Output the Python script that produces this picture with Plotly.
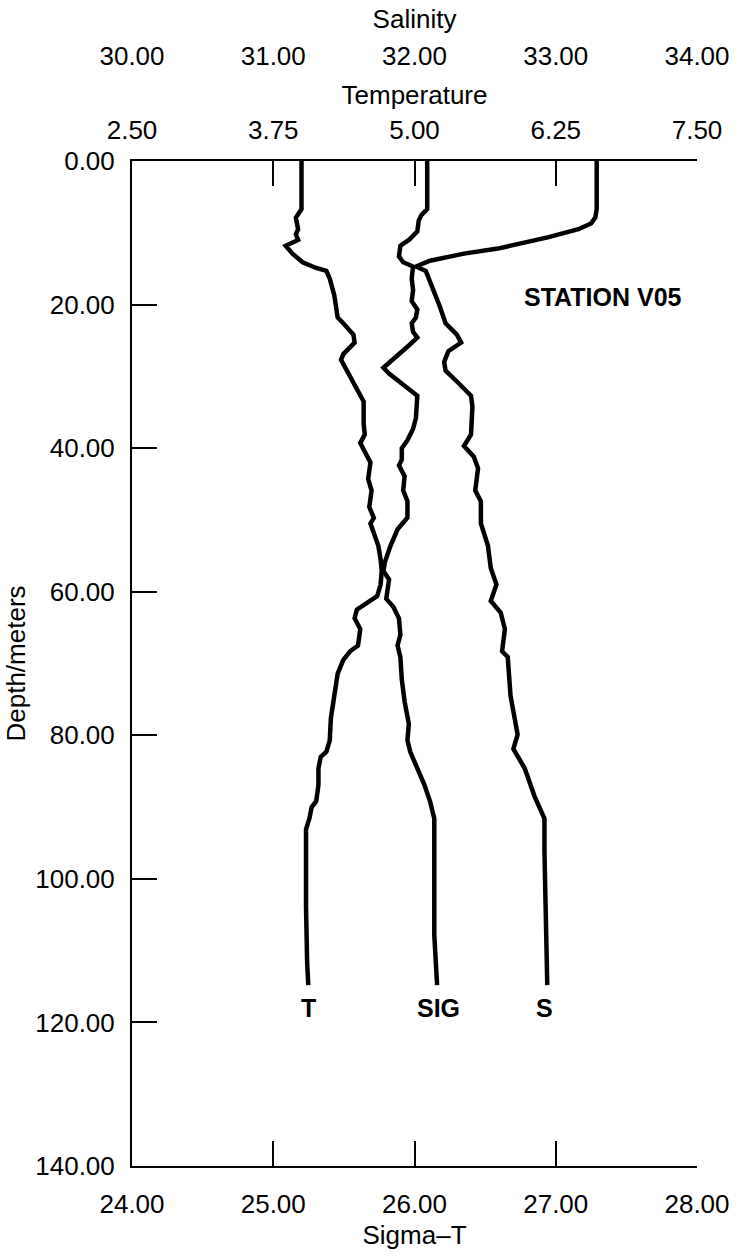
import plotly.graph_objects as go

# ---- Data ----
# Temperature profile (deg C) vs depth (m)
t_depth = [0, 6.7, 7.9, 9.5, 10.2, 11.0, 11.8, 12.9, 14.1, 14.9, 15.3, 16.4, 18.7, 21.8, 22.6,
           24.2, 25.3, 26.9, 27.7, 30.0, 31.9, 33.5, 36.6, 38.1, 39.3, 41.2, 42.0, 44.3, 45.9,
           48.2, 49.7, 50.5, 52.1, 53.6, 55.5, 57.1, 59.0, 60.6, 62.5, 63.7, 65.2, 67.5, 68.3,
           69.5, 71.4, 74.5, 77.6, 80.7, 82.3, 83.0, 84.6, 86.9, 89.2, 90.0, 91.6, 93.1, 97.0,
           104.0, 111.7, 114.8]
t_vals = [4.00, 4.00, 3.95, 3.97, 3.95, 3.97, 3.86, 3.92, 4.01, 4.13, 4.22, 4.25, 4.29, 4.32, 4.37,
          4.46, 4.47, 4.37, 4.35, 4.43, 4.50, 4.55, 4.55, 4.56, 4.52, 4.58, 4.61, 4.59, 4.62,
          4.60, 4.64, 4.61, 4.65, 4.68, 4.70, 4.71, 4.70, 4.67, 4.49, 4.47, 4.52, 4.50, 4.43,
          4.37, 4.32, 4.29, 4.26, 4.25, 4.22, 4.17, 4.15, 4.15, 4.13, 4.09, 4.07, 4.04, 4.04,
          4.04, 4.05, 4.06]

# Sigma-T profile vs depth (m)
sig_depth = [0, 6.7, 7.5, 8.3, 9.8, 11.0, 11.8, 13.3, 14.1, 14.7, 16.4, 18.0, 19.5, 20.7, 21.8,
             22.6, 23.8, 24.6, 25.7, 28.8, 29.6, 32.7, 35.8, 37.3, 38.9, 40.0, 41.6, 42.4, 43.9,
             45.9, 47.4, 49.7, 51.3, 53.6, 55.9, 57.1, 58.3, 61.0, 62.1, 63.7, 66.0, 67.5, 69.1,
             72.2, 75.3, 78.4, 80.7, 82.3, 84.6, 86.9, 89.2, 91.6, 96.2, 107.8, 114.8]
sig_vals = [26.09, 26.09, 26.05, 26.03, 26.02, 25.96, 25.90, 25.89, 25.92, 25.99, 25.98, 25.99, 25.98,
            26.02, 26.01, 25.98, 25.99, 26.02, 25.96, 25.78, 25.82, 26.02, 26.01, 25.99, 25.95,
            25.91, 25.91, 25.89, 25.93, 25.92, 25.95, 25.95, 25.88, 25.83, 25.79, 25.78, 25.82,
            25.80, 25.85, 25.89, 25.90, 25.88, 25.90, 25.91, 25.93, 25.96, 25.95, 25.97, 26.02,
            26.07, 26.11, 26.14, 26.14, 26.14, 26.16]

# Salinity profile vs depth (m)
s_depth = [0, 6.7, 7.9, 8.7, 9.5, 10.6, 12.2, 12.9, 13.9, 14.7, 15.3, 17.2, 20.3, 22.6, 24.2,
           25.3, 26.5, 28.0, 29.2, 31.1, 32.7, 34.2, 38.1, 39.7, 41.2, 42.8, 45.9, 47.4, 50.5,
           53.6, 56.7, 59.0, 61.3, 62.9, 65.2, 68.3, 69.1, 74.5, 79.9, 81.9, 84.6, 88.5, 91.6,
           96.2, 107.8, 114.8]
s_vals = [33.29, 33.29, 33.28, 33.25, 33.16, 32.95, 32.59, 32.35, 32.11, 32.01, 32.08, 32.12, 32.18,
          32.22, 32.30, 32.33, 32.24, 32.21, 32.22, 32.32, 32.40, 32.41, 32.40, 32.35, 32.42,
          32.45, 32.43, 32.47, 32.47, 32.52, 32.54, 32.58, 32.54, 32.61, 32.64, 32.62, 32.66,
          32.68, 32.73, 32.70, 32.78, 32.85, 32.92, 32.92, 32.93, 32.94]

# Axis ticks
sigma_ticks = [24, 25, 26, 27, 28]
sigma_labels = ["24.00", "25.00", "26.00", "27.00", "28.00"]
sal_ticks = [30, 31, 32, 33, 34]
sal_labels = ["30.00", "31.00", "32.00", "33.00", "34.00"]
temp_ticks = [2.5, 3.75, 5.0, 6.25, 7.5]
temp_labels = ["2.50", "3.75", "5.00", "6.25", "7.50"]
depth_ticks = [0, 20, 40, 60, 80, 100, 120, 140]
depth_labels = ["0.00", "20.00", "40.00", "60.00", "80.00", "100.00", "120.00", "140.00"]

# Curve end labels
curve_labels = ["T", "SIG", "S"]
curve_label_x = [25.25, 26.17, 26.92]  # in Sigma-T units
curve_label_depth = 118.0

FONT = "Liberation Sans, Arial, Helvetica, sans-serif"
TICKFONT = dict(family=FONT, size=26, color="black")
TITLEFONT = dict(family=FONT, size=26, color="black")

W, H = 738, 1259
M_T, M_B, M_L, M_R = 0, 93, 132, 41
PAPER_H = H - M_T - M_B
PLOT_TOP_PX = 161
y_dom_top = (H - M_B - PLOT_TOP_PX) / PAPER_H
sal_line_px = 72
sal_pos = (H - M_B - sal_line_px) / PAPER_H

line_style = dict(color="black", width=4.5)

fig = go.Figure()
fig.add_trace(go.Scatter(x=t_vals, y=t_depth, xaxis="x3", yaxis="y", mode="lines",
                         line=line_style, name="T"))
fig.add_trace(go.Scatter(x=sig_vals, y=sig_depth, xaxis="x", yaxis="y", mode="lines",
                         line=line_style, name="SIG"))
fig.add_trace(go.Scatter(x=s_vals, y=s_depth, xaxis="x2", yaxis="y", mode="lines",
                         line=line_style, name="S"))

common_ax = dict(showgrid=False, zeroline=False, linecolor="black", linewidth=2,
                 tickcolor="black", tickwidth=2, tickfont=TICKFONT, automargin=False)

fig.update_layout(
    width=W, height=H,
    margin=dict(l=M_L, r=M_R, t=M_T, b=M_B, pad=0),
    paper_bgcolor="white", plot_bgcolor="white",
    showlegend=False,
    font=dict(family=FONT, color="black"),
    xaxis=dict(range=[24, 28], domain=[0, 1], side="bottom", anchor="y",
               tickmode="array", tickvals=sigma_ticks, ticktext=sigma_labels,
               ticks="inside", ticklen=25, showline=True, ticklabelstandoff=14,
               title=dict(text="Sigma\u2013T", font=TITLEFONT, standoff=8),
               **common_ax),
    xaxis2=dict(range=[30, 34], overlaying="x", side="top", anchor="free", position=sal_pos,
                tickmode="array", tickvals=sal_ticks, ticktext=sal_labels,
                ticks="", showline=False, ticklabelstandoff=2,
                title=dict(text="Salinity", font=TITLEFONT, standoff=3),
                **common_ax),
    xaxis3=dict(range=[2.5, 7.5], overlaying="x", side="top", anchor="y",
                tickmode="array", tickvals=temp_ticks, ticktext=temp_labels,
                ticks="inside", ticklen=25, showline=True, ticklabelstandoff=10,
                title=dict(text="Temperature", font=TITLEFONT, standoff=2),
                **common_ax),
    yaxis=dict(range=[140, 0], domain=[0, y_dom_top], anchor="x",
               tickmode="array", tickvals=depth_ticks, ticktext=depth_labels,
               ticks="inside", ticklen=25, showline=True, ticklabelstandoff=10,
               title=dict(text="Depth/meters", font=TITLEFONT, standoff=2),
               **common_ax),
)

fig.add_annotation(x=26.76, y=19.0, xref="x", yref="y", text="<b>STATION V05</b>",
                   showarrow=False, xanchor="left", yanchor="middle",
                   font=dict(family=FONT, size=25, color="black"))
for lab, lx in zip(curve_labels, curve_label_x):
    fig.add_annotation(x=lx, y=curve_label_depth, xref="x", yref="y", text="<b>%s</b>" % lab,
                       showarrow=False, xanchor="center", yanchor="middle",
                       font=dict(family=FONT, size=25, color="black"))

fig.write_html("out.html")
